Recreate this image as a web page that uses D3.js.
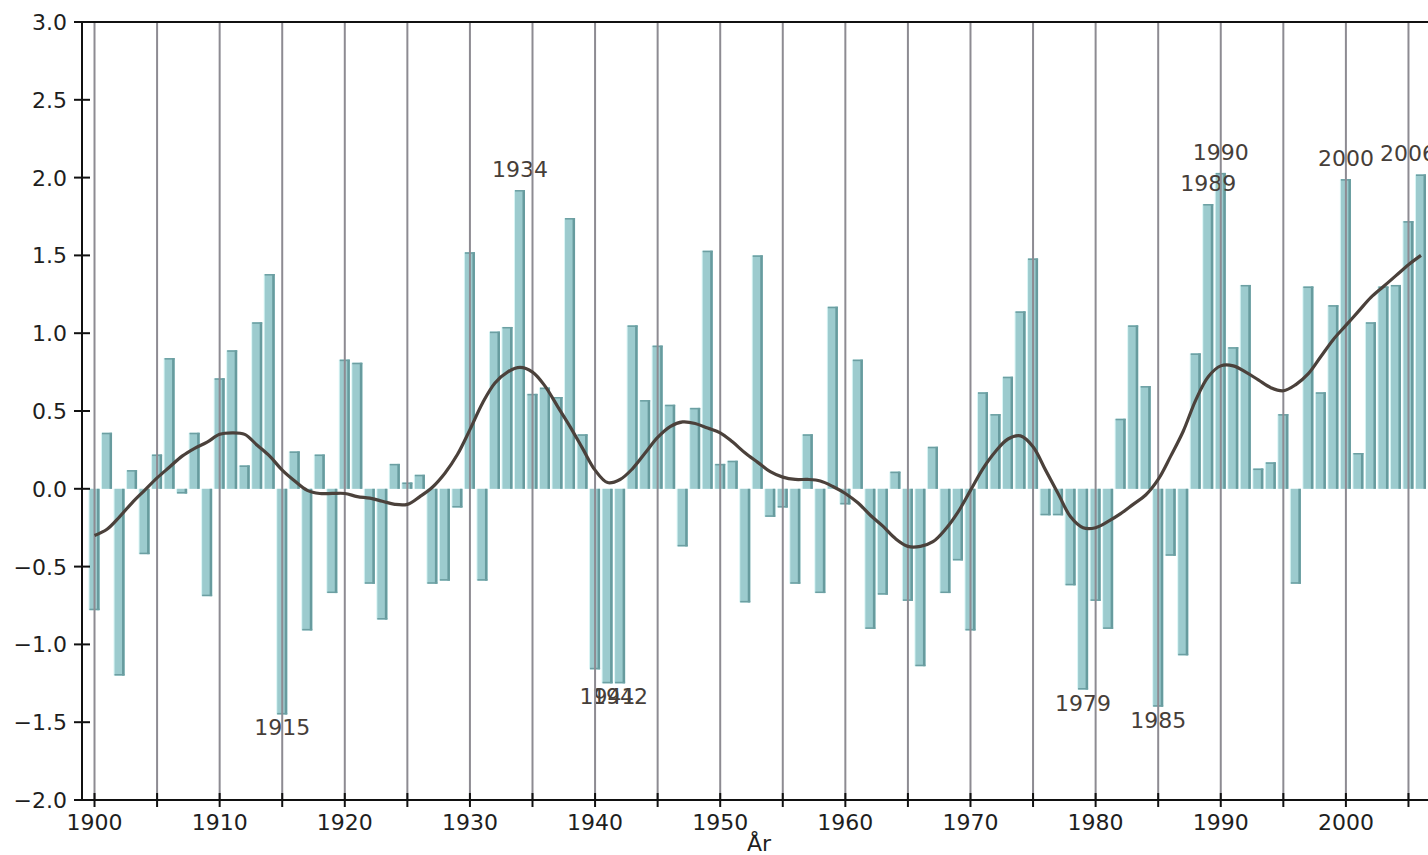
<!DOCTYPE html>
<html>
<head>
<meta charset="utf-8">
<script src="https://cdn.jsdelivr.net/npm/d3@7"></script>
<style>
  html, body { margin: 0; padding: 0; background: #fff; overflow: hidden; }
  svg { display: block; font-family: "DejaVu Sans", Verdana, sans-serif; }
</style>
</head>
<body>
<div id="chart"></div>
<script>
// yearly anomaly values, 1900-2006
const years = d3.range(1900, 2007);
const anomaly = [
  -0.78, 0.36, -1.20, 0.12, -0.42, 0.22, 0.84, -0.03, 0.36, -0.69,
  0.71, 0.89, 0.15, 1.07, 1.38, -1.45, 0.24, -0.91, 0.22, -0.67,
  0.83, 0.81, -0.61, -0.84, 0.16, 0.04, 0.09, -0.61, -0.59, -0.12,
  1.52, -0.59, 1.01, 1.04, 1.92, 0.61, 0.65, 0.59, 1.74, 0.35,
  -1.16, -1.25, -1.25, 1.05, 0.57, 0.92, 0.54, -0.37, 0.52, 1.53,
  0.16, 0.18, -0.73, 1.50, -0.18, -0.12, -0.61, 0.35, -0.67, 1.17,
  -0.10, 0.83, -0.90, -0.68, 0.11, -0.72, -1.14, 0.27, -0.67, -0.46,
  -0.91, 0.62, 0.48, 0.72, 1.14, 1.48, -0.17, -0.17, -0.62, -1.29,
  -0.72, -0.90, 0.45, 1.05, 0.66, -1.40, -0.43, -1.07, 0.87, 1.83,
  2.03, 0.91, 1.31, 0.13, 0.17, 0.48, -0.61, 1.30, 0.62, 1.18,
  1.99, 0.23, 1.07, 1.30, 1.31, 1.72, 2.02
];
// smoothed curve
const smooth = [
  -0.30, -0.26, -0.18, -0.09, -0.01, 0.07, 0.14, 0.21, 0.26, 0.30,
  0.35, 0.36, 0.35, 0.28, 0.21, 0.12, 0.05, -0.01, -0.03, -0.03,
  -0.03, -0.05, -0.06, -0.08, -0.10, -0.10, -0.05, 0.01, 0.10, 0.22,
  0.38, 0.55, 0.68, 0.75, 0.78, 0.75, 0.66, 0.53, 0.40, 0.26,
  0.12, 0.04, 0.06, 0.13, 0.23, 0.33, 0.40, 0.43, 0.42, 0.39,
  0.36, 0.30, 0.23, 0.17, 0.11, 0.075, 0.06, 0.06, 0.05, 0.015,
  -0.03, -0.09, -0.17, -0.24, -0.32, -0.37, -0.37, -0.34, -0.26, -0.15,
  -0.01, 0.13, 0.24, 0.32, 0.34, 0.27, 0.12, -0.03, -0.18, -0.25,
  -0.25, -0.21, -0.16, -0.10, -0.04, 0.06, 0.21, 0.37, 0.57, 0.72,
  0.79, 0.79, 0.75, 0.70, 0.65, 0.63, 0.67, 0.74, 0.85, 0.96,
  1.05, 1.14, 1.23, 1.30, 1.37, 1.44, 1.50
];
const labelledYears = [1915, 1934, 1941, 1942, 1979, 1985, 1989, 1990, 2000, 2006];
const yTicks = [-2.0, -1.5, -1.0, -0.5, 0.0, 0.5, 1.0, 1.5, 2.0, 2.5, 3.0];
const xMinorTicks = d3.range(1900, 2006, 5);
const xLabelTicks = d3.range(1900, 2001, 10);
const xTitle = "År";

const W = 1428, H = 855;
const plot = { left: 82, right: 1436, top: 22, bottom: 800 };

const data = years.map((y, i) => ({ year: y, value: anomaly[i], smooth: smooth[i] }));

const x = d3.scaleLinear().domain([1899.0, 2007.2]).range([plot.left, plot.right]);
const y = d3.scaleLinear().domain([-2, 3]).range([plot.bottom, plot.top]);
const barW = (x(1901) - x(1900)) * 0.8;

const svg = d3.select("#chart").append("svg")
  .attr("width", W).attr("height", H);

// bars with a little bevel
const bars = svg.append("g").selectAll("g.bar")
  .data(data).enter().append("g").attr("class", "bar");

bars.append("rect")
  .attr("x", d => x(d.year) - barW / 2 - 1)
  .attr("y", d => Math.min(y(d.value), y(0)))
  .attr("width", barW + 1)
  .attr("height", d => Math.abs(y(d.value) - y(0)))
  .attr("fill", "#d9f5f5");
bars.append("rect")
  .attr("x", d => x(d.year) - barW / 2)
  .attr("y", d => Math.min(y(d.value), y(0)))
  .attr("width", barW)
  .attr("height", d => Math.abs(y(d.value) - y(0)))
  .attr("fill", "#9ccbce");
bars.append("rect")
  .attr("x", d => x(d.year) + barW / 2 - 2.5)
  .attr("y", d => Math.min(y(d.value), y(0)))
  .attr("width", 2.5)
  .attr("height", d => Math.abs(y(d.value) - y(0)))
  .attr("fill", "#679b9e");
bars.append("rect")
  .attr("x", d => x(d.year) - barW / 2)
  .attr("y", d => d.value >= 0 ? y(d.value) : y(d.value) - 1.5)
  .attr("width", barW)
  .attr("height", 1.5)
  .attr("fill", "#6c9fa2");

// year labels at notable bars
const labelData = data.filter(d => labelledYears.includes(d.year));
svg.append("g").selectAll("text")
  .data(labelData).enter().append("text")
  .attr("x", d => Math.min(x(d.year), plot.right - 28))
  .attr("y", d => d.value >= 0 ? y(d.value) - 13 : y(d.value) + 21)
  .attr("text-anchor", "middle")
  .style("font-size", "22px")
  .style("fill", "#463e39")
  .text(d => d.year);

// vertical grid lines every 5 years
svg.append("g").selectAll("line")
  .data(xMinorTicks).enter().append("line")
  .attr("x1", d => x(d)).attr("x2", d => x(d))
  .attr("y1", plot.top).attr("y2", plot.bottom)
  .attr("stroke", "#8d8b92").attr("stroke-width", 2);

// smoothed line
svg.append("path")
  .datum(data)
  .attr("fill", "none")
  .attr("stroke", "#4b413b")
  .attr("stroke-width", 3.2)
  .attr("stroke-linejoin", "round")
  .attr("d", d3.line().x(d => x(d.year)).y(d => y(d.smooth)).curve(d3.curveCatmullRom));

// axes frame
svg.append("line")
  .attr("x1", plot.left).attr("x2", W).attr("y1", plot.top).attr("y2", plot.top)
  .attr("stroke", "#111").attr("stroke-width", 2);
svg.append("line")
  .attr("x1", plot.left).attr("x2", W).attr("y1", plot.bottom).attr("y2", plot.bottom)
  .attr("stroke", "#111").attr("stroke-width", 2);
svg.append("line")
  .attr("x1", plot.left).attr("x2", plot.left).attr("y1", plot.top - 1).attr("y2", plot.bottom + 1)
  .attr("stroke", "#111").attr("stroke-width", 2);

// y ticks and labels
const yAxis = svg.append("g");
yAxis.selectAll("line")
  .data(yTicks).enter().append("line")
  .attr("x1", plot.left - 8).attr("x2", plot.left + 8)
  .attr("y1", d => y(d)).attr("y2", d => y(d))
  .attr("stroke", "#111").attr("stroke-width", 2);
yAxis.selectAll("text")
  .data(yTicks).enter().append("text")
  .attr("x", plot.left - 15)
  .attr("y", d => y(d))
  .attr("dy", "0.36em")
  .attr("text-anchor", "end")
  .style("font-size", "22px")
  .style("fill", "#1e1e1e")
  .text(d => d3.format(".1f")(d));

// x ticks and labels
const xAxis = svg.append("g");
xAxis.selectAll("line")
  .data(xMinorTicks).enter().append("line")
  .attr("x1", d => x(d)).attr("x2", d => x(d))
  .attr("y1", plot.bottom - 7).attr("y2", plot.bottom + 7)
  .attr("stroke", "#111").attr("stroke-width", 2);
xAxis.selectAll("text")
  .data(xLabelTicks).enter().append("text")
  .attr("x", d => x(d))
  .attr("y", plot.bottom + 30)
  .attr("text-anchor", "middle")
  .style("font-size", "22px")
  .style("fill", "#1e1e1e")
  .text(d => d);

svg.append("text")
  .attr("x", (plot.left + plot.right) / 2)
  .attr("y", 851)
  .attr("text-anchor", "middle")
  .style("font-size", "22px")
  .style("fill", "#1e1e1e")
  .text(xTitle);
</script>
</body>
</html>
